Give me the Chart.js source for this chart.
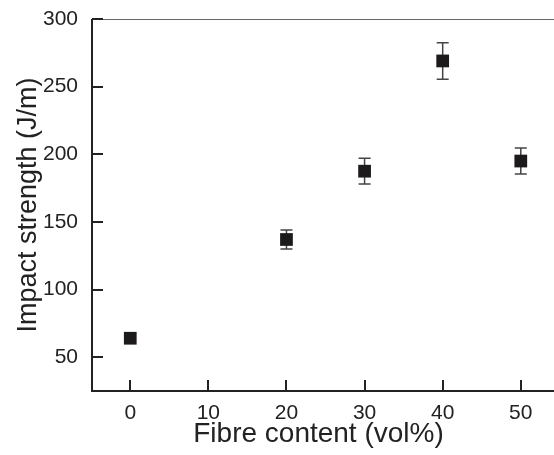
<!DOCTYPE html>
<html lang="en">
<head>
  <meta charset="UTF-8">
  <title>Impact strength vs fibre content</title>
  <script src="https://cdn.jsdelivr.net/npm/chart.js"></script>
  <style>
    html, body { margin: 0; background: #fff; overflow: hidden; }
    .wrap { width: 554px; height: 455px; position: relative; }
    canvas { display: block; }
  </style>
</head>
<body>
  <div class="wrap"><canvas id="grafico"></canvas></div>
  <script>
    // dados
    const fibra = [0, 20, 30, 40, 50];
    const impacto = [64, 137, 187.5, 269, 195];
    const erro = [0, 7, 9.5, 13.5, 9.6];
    const ticksX = [0, 10, 20, 30, 40, 50];
    const ticksY = [50, 100, 150, 200, 250, 300];

    const fonte = '"Liberation Sans", Arial, Helvetica, sans-serif';
    const corTexto = '#222';

    // barras de erro + eixos com ticks para dentro
    const eixosPlugin = {
      id: 'eixos',
      beforeDatasetsDraw(chart) {
        const { ctx, scales: { x, y } } = chart;
        ctx.save();
        ctx.strokeStyle = '#444';
        ctx.lineWidth = 1.5;
        fibra.forEach((v, i) => {
          if (!erro[i]) return;
          const px = x.getPixelForValue(v);
          const top = y.getPixelForValue(impacto[i] + erro[i]);
          const bot = y.getPixelForValue(impacto[i] - erro[i]);
          ctx.beginPath();
          ctx.moveTo(px, top); ctx.lineTo(px, bot);
          ctx.moveTo(px - 6, top); ctx.lineTo(px + 6, top);
          ctx.moveTo(px - 6, bot); ctx.lineTo(px + 6, bot);
          ctx.stroke();
        });
        ctx.restore();
      },
      afterDraw(chart) {
        const { ctx, chartArea: a, scales: { x, y } } = chart;
        // o eixo vai até a borda da figura
        const fim = chart.width;
        ctx.save();
        // linha de cima
        ctx.strokeStyle = '#666';
        ctx.lineWidth = 1.2;
        ctx.beginPath();
        ctx.moveTo(a.left, a.top + 0.5); ctx.lineTo(fim, a.top + 0.5);
        ctx.stroke();
        // eixos
        ctx.strokeStyle = '#222';
        ctx.lineWidth = 2;
        ctx.beginPath();
        ctx.moveTo(a.left, a.top); ctx.lineTo(a.left, a.bottom); ctx.lineTo(fim, a.bottom);
        ctx.stroke();
        ctx.beginPath();
        ticksX.forEach(v => {
          const px = Math.round(x.getPixelForValue(v));
          ctx.moveTo(px, a.bottom); ctx.lineTo(px, a.bottom - 11);
        });
        ticksY.forEach(v => {
          const py = Math.round(y.getPixelForValue(v));
          ctx.moveTo(a.left, py); ctx.lineTo(a.left + 11, py);
        });
        ctx.stroke();
        ctx.restore();
      }
    };

    new Chart(document.getElementById('grafico'), {
      type: 'scatter',
      data: {
        datasets: [{
          data: fibra.map((v, i) => ({ x: v, y: impacto[i] })),
          pointStyle: 'rect',
          pointRadius: 9,
          pointHoverRadius: 9,
          backgroundColor: '#1c1a1a',
          borderColor: '#1c1a1a',
          borderWidth: 0
        }]
      },
      options: {
        responsive: true,
        maintainAspectRatio: false,
        animation: false,
        events: [],
        layout: { padding: { top: 19, right: 0, left: 0, bottom: 0 } },
        plugins: { legend: { display: false }, tooltip: { enabled: false } },
        scales: {
          x: {
            type: 'linear',
            min: -4.9,
            max: 53.1,
            afterBuildTicks: s => { s.ticks = ticksX.map(v => ({ value: v })); },
            afterFit: s => { s.height = 64; s.paddingLeft = 0; s.paddingRight = 0; },
            grid: { display: false, drawTicks: false },
            border: { display: false },
            ticks: { padding: 10, color: corTexto, font: { family: fonte, size: 21 }, maxRotation: 0 },
            title: {
              display: true,
              text: 'Fibre content (vol%)',
              color: corTexto,
              font: { family: fonte, size: 28 },
              padding: { top: 0, bottom: 4 }
            }
          },
          y: {
            type: 'linear',
            min: 25,
            max: 300,
            afterBuildTicks: s => { s.ticks = ticksY.map(v => ({ value: v })); },
            afterFit: s => { s.width = 92; s.paddingTop = 0; s.paddingBottom = 0; },
            grid: { display: false, drawTicks: false },
            border: { display: false },
            ticks: { padding: 14, color: corTexto, font: { family: fonte, size: 21 } },
            title: {
              display: true,
              text: 'Impact strength (J/m)',
              color: corTexto,
              font: { family: fonte, size: 27 },
              padding: { top: 12, bottom: 0 }
            }
          }
        }
      },
      plugins: [eixosPlugin]
    });
  </script>
</body>
</html>
